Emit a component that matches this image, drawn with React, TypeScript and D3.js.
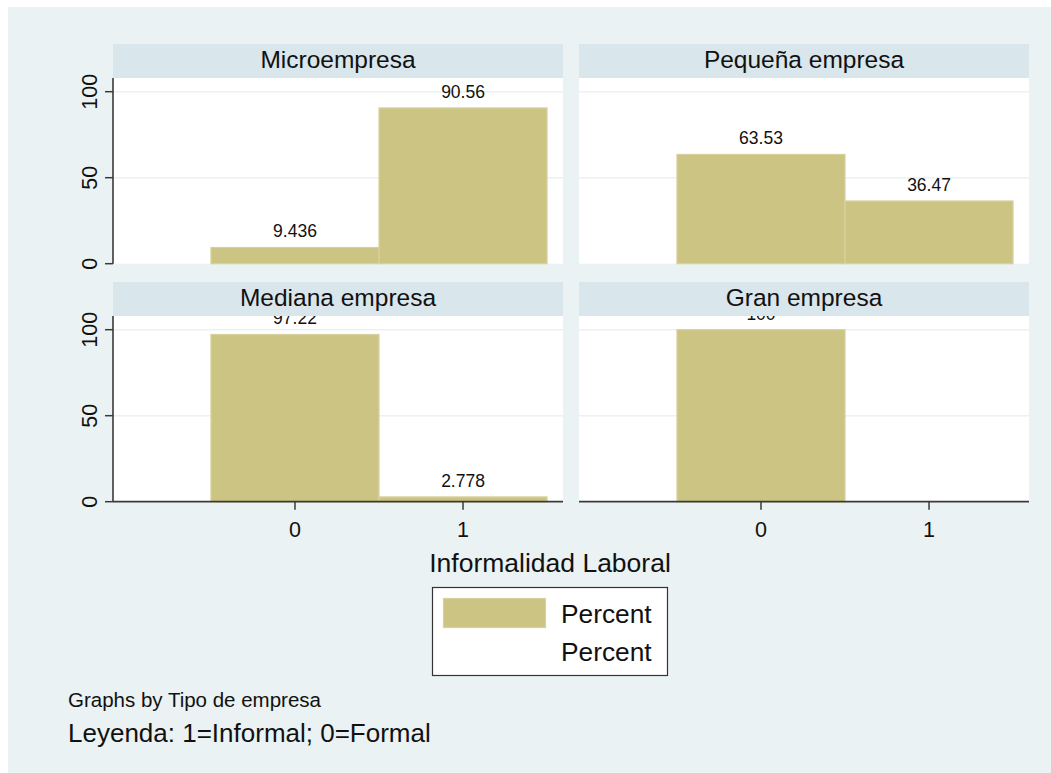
import React from "react";
import * as d3 from "d3";

const panelTitles = ["Microempresa", "Pequeña empresa", "Mediana empresa", "Gran empresa"];
const categories = [0, 1];
const microempresa = [9.436, 90.56];
const pequenaEmpresa = [63.53, 36.47];
const medianaEmpresa = [97.22, 2.778];
const granEmpresa: (number | null)[] = [100, null];
const seriesByPanel = [microempresa, pequenaEmpresa, medianaEmpresa, granEmpresa];
const yTicks = [0, 50, 100];
const xTicks = [0, 1];
const xTitle = "Informalidad Laboral";
const legendLabels = ["Percent", "Percent"];
const noteText = "Graphs by Tipo de empresa";
const captionText = "Leyenda: 1=Informal; 0=Formal";

const FONT = "'Liberation Sans', Arial, Helvetica, sans-serif";
const BG = "#EAF2F3";
const STRIP = "#D9E6EB";
const BAR = "#CCC483";
const BAR_EDGE = "#D8D19E";
const AXIS = "#3A3A3A";

const W = 1051;
const H = 773;
const colX = [113, 579];
const panelW = 450;
const stripTop = [44, 282];
const stripH = 34;
const plotBottom = [263.7, 501.7];
const yRangePx = 172;

const fmt = d3.format(".4~g");

export default function App() {
  const panels = seriesByPanel.map((vals, i) => {
    const col = i % 2;
    const row = Math.floor(i / 2);
    const x0 = colX[col];
    const x = d3.scaleLinear().domain([-1.083, 1.589]).range([x0, x0 + panelW - 1]);
    const y = d3.scaleLinear().domain([0, 100]).range([plotBottom[row], plotBottom[row] - yRangePx]);
    return { vals, col, row, x0, x, y, title: panelTitles[i] };
  });

  return (
    <svg
      width={W}
      height={H}
      style={{ position: "absolute", left: 0, top: 0 }}
      fontFamily={FONT}
    >
      <rect x={0} y={0} width={W} height={H} fill="#ffffff" />
      <rect x={8} y={7} width={W - 8} height={H - 7} fill={BG} />
      {panels.map((p, i) => {
        const top = stripTop[p.row] + stripH;
        const bottom = plotBottom[p.row];
        return (
          <g key={"p" + i}>
            <rect x={p.x0} y={top} width={panelW} height={bottom - top} fill="#ffffff" />
            {yTicks.filter((t) => t > 0).map((t) => (
              <line
                key={t}
                x1={p.x0}
                x2={p.x0 + panelW}
                y1={p.y(t)}
                y2={p.y(t)}
                stroke={BG}
                strokeWidth={1.5}
              />
            ))}
            {categories.map((c, j) => {
              const v = p.vals[j];
              if (v == null) return null;
              const xl = p.x(c - 0.5);
              const xr = p.x(c + 0.5);
              return (
                <g key={"b" + j}>
                  <rect
                    x={xl}
                    y={p.y(v)}
                    width={xr - xl}
                    height={p.y(0) - p.y(v)}
                    fill={BAR}
                    stroke={BAR_EDGE}
                    strokeWidth={1.2}
                  />
                  <text
                    x={p.x(c)}
                    y={p.y(v) - 10}
                    textAnchor="middle"
                    fontSize={17.5}
                    fill="#111"
                  >
                    {fmt(v)}
                  </text>
                </g>
              );
            })}
            <rect x={p.x0} y={stripTop[p.row]} width={panelW} height={stripH} fill={STRIP} />
            <text
              x={p.x0 + panelW / 2}
              y={stripTop[p.row] + 23.5}
              textAnchor="middle"
              fontSize={24.5}
              fill="#111"
            >
              {p.title}
            </text>
            {p.col === 0 && (
              <g>
                <line x1={p.x0} x2={p.x0} y1={top} y2={bottom} stroke={AXIS} strokeWidth={1.6} />
                {yTicks.map((t) => (
                  <g key={"yt" + t}>
                    <line x1={p.x0 - 8} x2={p.x0} y1={p.y(t)} y2={p.y(t)} stroke={AXIS} strokeWidth={1.5} />
                    <text
                      transform={`translate(${96.5},${p.y(t)}) rotate(-90)`}
                      textAnchor="middle"
                      fontSize={21.5}
                      fill="#111"
                    >
                      {String(t)}
                    </text>
                  </g>
                ))}
              </g>
            )}
            {p.row === 1 && (
              <g>
                <line x1={p.x0} x2={p.x0 + panelW} y1={bottom} y2={bottom} stroke={AXIS} strokeWidth={1.8} />
                {xTicks.map((t) => (
                  <g key={"xt" + t}>
                    <line x1={p.x(t)} x2={p.x(t)} y1={bottom} y2={bottom + 8} stroke={AXIS} strokeWidth={1.5} />
                    <text x={p.x(t)} y={537} textAnchor="middle" fontSize={21.5} fill="#111">
                      {String(t)}
                    </text>
                  </g>
                ))}
              </g>
            )}
          </g>
        );
      })}
      <text x={550} y={572} textAnchor="middle" fontSize={26.5} fill="#111">
        {xTitle}
      </text>
      <g>
        <rect x={432.5} y={587.5} width={235} height={88} fill="#ffffff" stroke="#333" strokeWidth={1.2} />
        <rect x={443.5} y={598.5} width={102} height={29} fill={BAR} stroke={BAR_EDGE} strokeWidth={1.2} />
        {legendLabels.map((l, i) => (
          <text key={i} x={561} y={623 + i * 38} fontSize={26.3} fill="#111">
            {l}
          </text>
        ))}
      </g>
      <text x={68} y={707} fontSize={20.5} fill="#111">
        {noteText}
      </text>
      <text x={68} y={742} fontSize={26} fill="#111">
        {captionText}
      </text>
    </svg>
  );
}
